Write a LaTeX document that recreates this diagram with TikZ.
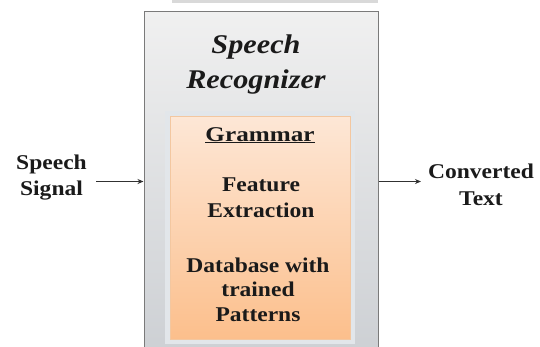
\documentclass[tikz,border=0pt]{standalone}
\usepackage{fontspec}
\setmainfont{Liberation Serif}
\usetikzlibrary{arrows.meta}
\definecolor{txt}{HTML}{1A1A1A}
\definecolor{outerline}{HTML}{7A7A7A}
\definecolor{outertop}{HTML}{F0F0F0}
\definecolor{outerbot}{HTML}{CDD0D4}
\definecolor{innertop}{HTML}{FDE7D6}
\definecolor{innerbot}{HTML}{FCBF8C}
\definecolor{innerline}{HTML}{F3C7A0}
\definecolor{glow}{HTML}{E2E6EA}
\definecolor{strip}{HTML}{D9D9D9}
\tikzset{
  lbl/.style={text=txt, align=center, anchor=base, inner sep=0pt, xscale=1.12,
    font=\fontsize{21}{25}\selectfont\bfseries},
  outerbox/.style={draw=outerline, line width=1pt, top color=outertop, bottom color=outerbot,
    minimum width=234pt, minimum height=341pt, inner sep=0pt},
  innerbox/.style={draw=innerline, line width=0.8pt, top color=innertop, bottom color=innerbot,
    minimum width=180pt, minimum height=223pt, inner sep=0pt},
  arr/.style={draw=txt!90, line width=1.1pt, -{Stealth[length=6pt,width=5pt]}}
}
\begin{document}
\begin{tikzpicture}[x=1pt,y=1pt]
\useasboundingbox (0,0) rectangle (540,-346);
% faint strip at top
\fill[strip] (172,0) rectangle (378,-3);
% outer box
\node[outerbox] (outer) at (261,-181.5) {};
% glow and inner box
\fill[glow] (165,-111) rectangle (355,-344);
\node[innerbox] (inner) at (260,-227.5) {};
% title
\node[lbl, font=\fontsize{27}{35}\selectfont\bfseries\itshape] (title) at (256,-88) {Speech\\Recognizer};
% inner texts
\node[lbl, xscale=1.07] (gram) at (260,-141) {\underline{Grammar}};
\node[lbl, font=\fontsize{21}{26}\selectfont\bfseries] (feat) at (261,-217) {Feature\\Extraction};
\node[lbl, font=\fontsize{21}{24.5}\selectfont\bfseries] (db) at (258,-321) {Database with\\trained\\Patterns};
% side labels
\node[lbl, font=\fontsize{21}{26}\selectfont\bfseries] (sig) at (51.5,-195) {Speech\\Signal};
\node[lbl, font=\fontsize{21}{27}\selectfont\bfseries] (conv) at (481,-205) {Converted\\Text};
% arrows
\coordinate (sigend) at (96,-181.5);
\coordinate (convend) at (421,-181.5);
\draw[arr] (sigend) -- (outer.west);
\draw[arr] (outer.east) -- (convend);
\end{tikzpicture}
\end{document}
